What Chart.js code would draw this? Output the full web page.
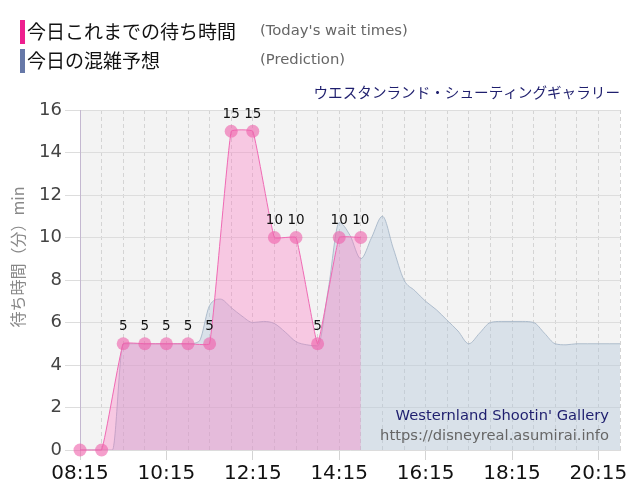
<!DOCTYPE html>
<html><head><meta charset="utf-8">
<script src="https://cdn.jsdelivr.net/npm/chart.js@4.4.1/dist/chart.umd.min.js"></script>
<style>html,body{margin:0;padding:0;background:#fff;}#wrap{position:relative;width:640px;height:500px;}</style>
</head><body><div id="wrap"><canvas id="c" width="640" height="500"></canvas></div>
<script>
// ---- data ----
const actualTimes = ['08:15','08:45','09:15','09:45','10:15','10:45','11:15','11:45','12:15','12:45','13:15','13:45','14:15','14:45'];
const actualWait  = [0,0,5,5,5,5,5,15,15,10,10,5,10,10];

const predictionTimes = ['08:15','08:30','08:45','09:00','09:15','09:30','09:45','10:00','10:15','10:30','10:45','11:00','11:15','11:30','11:45','12:00','12:15','12:30','12:45','13:00','13:15','13:30','13:45','14:00','14:15','14:30','14:45','15:00','15:15','15:30','15:45','16:00','16:15','16:30','16:45','17:00','17:15','17:30','17:45','18:00','18:15','18:30','18:45','19:00','19:15','19:30','19:45','20:00','20:15','20:30','20:45'];
const predictionWait  = [0,0,0,0,5,5,5,5,5,5,5,5.1,6.8,7.1,6.7,6.3,6.0,6.05,5.95,5.55,5.1,4.95,4.9,7.6,10.7,10.1,9.0,10.0,11.0,9.5,8.0,7.5,7.0,6.6,6.1,5.6,5.0,5.5,6.0,6.05,6.05,6.05,6.0,5.5,5.0,4.95,5.0,5.0,5.0,5.0,5.0];

const xTickLabels = ['08:15','10:15','12:15','14:15','16:15','18:15','20:15'];
const xRange = ['08:15','20:45'];
const yTicks = {min:0, max:16, step:2};

const legendLabels = ['今日これまでの待ち時間','今日の混雑予想'];
const legendSubLabels = ["(Today's wait times)",'(Prediction)'];
const chartTitle = 'ウエスタンランド・シューティングギャラリー';
const yTitle = '待ち時間（分）min';
const watermark = ["Westernland Shootin' Gallery",'https://disneyreal.asumirai.info'];

// ---- helpers ----
const toMin = s => { const [h,m] = s.split(':').map(Number); return h*60+m; };
const fmt = v => String(Math.floor(v/60)).padStart(2,'0')+':'+String(v%60).padStart(2,'0');

const bgPlugin = {
  id:'bg',
  beforeDraw(chart){
    const {ctx, chartArea:a} = chart;
    ctx.save(); ctx.fillStyle='#f3f3f3';
    ctx.fillRect(a.left,a.top,a.right-a.left,a.bottom-a.top);
    ctx.restore();
  }
};

const labelPlugin = {
  id:'vals',
  afterDatasetsDraw(chart){
    const ctx = chart.ctx; const meta = chart.getDatasetMeta(0);
    ctx.save();
    ctx.font = '13.5px "DejaVu Sans"'; ctx.fillStyle='#111';
    ctx.textAlign='center'; ctx.textBaseline='middle';
    meta.data.forEach((el,i)=>{
      if (actualWait[i] > 0) ctx.fillText(String(actualWait[i]), el.x, el.y-17);
    });
    ctx.restore();
  }
};

const textPlugin = {
  id:'texts',
  afterDraw(chart){
    const ctx = chart.ctx; const a = chart.chartArea;
    ctx.save();
    // legend
    ctx.fillStyle='#ee1f8f'; ctx.fillRect(20,20,5,24);
    ctx.fillStyle='#6678a8'; ctx.fillRect(20,49,5,24);
    ctx.textBaseline='middle'; ctx.textAlign='left';
    ctx.font='19px "Noto Sans CJK JP"'; ctx.fillStyle='#111';
    ctx.fillText(legendLabels[0],27,32);
    ctx.fillText(legendLabels[1],27,61);
    ctx.font='14.8px "DejaVu Sans"'; ctx.fillStyle='#666';
    ctx.fillText(legendSubLabels[0],260,31);
    ctx.fillText(legendSubLabels[1],260,60);
    // title
    ctx.textAlign='right';
    ctx.font='14.6px "Noto Sans CJK JP"'; ctx.fillStyle='#1f1f6e';
    ctx.fillText(chartTitle, a.right, 92);
    // watermark
    ctx.font='14.7px "DejaVu Sans"';
    ctx.fillStyle='#1e1e6e'; ctx.fillText(watermark[0], a.right-11, 416);
    ctx.fillStyle='#666'; ctx.fillText(watermark[1], a.right-11, 436);
    // y title
    ctx.translate(18, 257); ctx.rotate(-Math.PI/2);
    ctx.textAlign='center'; ctx.font='16px "Noto Sans CJK JP"'; ctx.fillStyle='#888';
    ctx.fillText(yTitle,0,0);
    ctx.restore();
  }
};

new Chart(document.getElementById('c'), {
  type:'line',
  data:{
    datasets:[
      {
        label:legendLabels[0],
        data: actualTimes.map((t,i)=>({x:toMin(t), y:actualWait[i]})),
        borderColor:'#f06ab4', borderWidth:1,
        backgroundColor:'rgba(255,110,190,0.32)', fill:'origin',
        pointRadius:6.5, pointHoverRadius:6.5,
        pointBackgroundColor:'rgba(238,95,170,0.6)', pointBorderWidth:0,
        tension:0.1, clip:false
      },
      {
        label:legendLabels[1],
        data: predictionTimes.map((t,i)=>({x:toMin(t), y:predictionWait[i]})),
        borderColor:'rgba(160,178,196,0.8)', borderWidth:1,
        backgroundColor:'rgba(176,198,218,0.38)', fill:'origin',
        pointRadius:0, cubicInterpolationMode:'monotone'
      }
    ]
  },
  options:{
    responsive:false, animation:false, devicePixelRatio:1,
    layout:{padding:{left:0,right:20,top:110,bottom:0}},
    plugins:{legend:{display:false}, tooltip:{enabled:false}},
    scales:{
      x:{
        type:'linear', min:toMin(xRange[0]), max:toMin(xRange[1]),
        afterFit(s){ s.height = 50; },
        ticks:{
          stepSize:30, autoSkip:false, maxRotation:0, padding:2,
          font:{family:'"DejaVu Sans"', size:20}, color:'#111',
          callback:v => xTickLabels.includes(fmt(v)) ? fmt(v) : ''
        },
        grid:{
          color:'#d4d4d4', lineWidth:1, tickLength:10, tickBorderDash:[],
          tickColor: c => (c.tick && xTickLabels.includes(fmt(c.tick.value))) ? '#d4d4d4' : 'rgba(0,0,0,0)'
        },
        border:{display:true, color:'#dcdcdc', dash:[4,3]}
      },
      y:{
        min:yTicks.min, max:yTicks.max,
        afterFit(s){ s.width = 80; },
        ticks:{stepSize:yTicks.step, padding:3, font:{family:'"DejaVu Sans"', size:18}, color:'#444'},
        grid:{color:'#dddddd', lineWidth:1, tickLength:15, tickColor:'#dddddd'},
        border:{display:true, color:'#c4b8d0'}
      }
    }
  },
  plugins:[bgPlugin, labelPlugin, textPlugin]
});
</script></body></html>
